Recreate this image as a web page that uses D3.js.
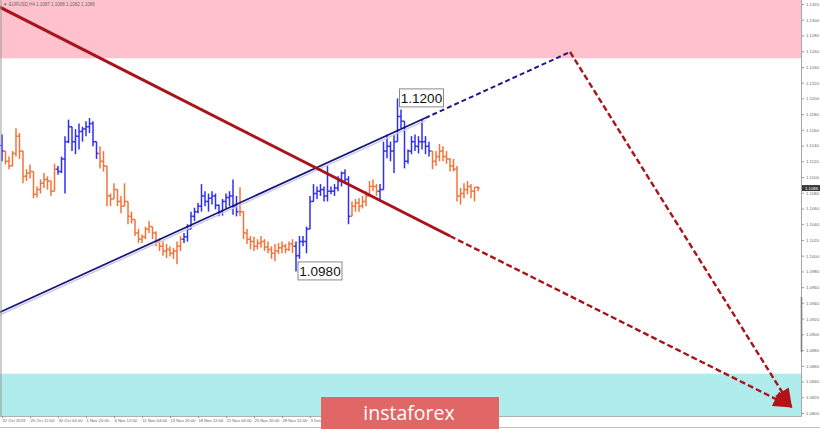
<!DOCTYPE html>
<html><head><meta charset="utf-8">
<script src="https://cdn.jsdelivr.net/npm/d3@7"></script>
<style>html,body{margin:0;padding:0;background:#fff;overflow:hidden} svg{display:block}</style>
</head><body>
<svg id="chart" width="820" height="429"></svg>
<script>
// ---- DATA ----
const highs = [1.1154,1.1130,1.1126,1.1133,1.1162,1.1156,1.1120,1.1110,1.1116,1.1092,
1.1088,1.1097,1.1105,1.1101,1.1095,1.1117,1.1114,1.1126,1.1152,1.1173,
1.1164,1.1161,1.1168,1.1164,1.1171,1.1175,1.1171,1.1145,1.1139,1.1133,
1.1105,1.1079,1.1092,1.1082,1.1076,1.1092,1.1059,1.1056,1.1044,1.1034,
1.1027,1.1037,1.1044,1.1037,1.1031,1.1022,1.1018,1.1015,1.1012,1.1010,
1.1018,1.1025,1.1029,1.1040,1.1056,1.1061,1.1067,1.1091,1.1082,1.1079,
1.1082,1.1079,1.1065,1.1072,1.1079,1.1082,1.1097,1.1076,1.1087,1.1050,
1.1034,1.1025,1.1024,1.1021,1.1025,1.1021,1.1018,1.1012,1.1015,1.1016,
1.1018,1.1015,1.1018,1.1021,1.1018,1.1025,1.1025,1.1037,1.1076,1.1091,
1.1088,1.1091,1.1088,1.1114,1.1088,1.1091,1.1101,1.1107,1.1110,1.1101,
1.1069,1.1072,1.1073,1.1076,1.1082,1.1095,1.1097,1.1091,1.1091,1.1145,
1.1154,1.1145,1.1154,1.1200,1.1186,1.1171,1.1135,1.1152,1.1154,1.1152,
1.1173,1.1152,1.1145,1.1133,1.1133,1.1142,1.1139,1.1133,1.1124,1.1123,
1.1114,1.1086,1.1092,1.1095,1.1091,1.1086,1.1088];
const lows = [1.1120,1.1116,1.1110,1.1114,1.1126,1.1123,1.1092,1.1095,1.1098,1.1073,
1.1074,1.1079,1.1086,1.1084,1.1076,1.1097,1.1103,1.1105,1.1079,1.1143,
1.1133,1.1129,1.1135,1.1145,1.1152,1.1156,1.1139,1.1123,1.1111,1.1107,
1.1063,1.1063,1.1072,1.1063,1.1054,1.1063,1.1040,1.1041,1.1025,1.1016,
1.1016,1.1021,1.1029,1.1021,1.1012,1.1006,1.1000,1.0997,1.0999,1.0996,
1.0989,1.1006,1.1016,1.1018,1.1037,1.1044,1.1054,1.1056,1.1063,1.1056,
1.1065,1.1059,1.1050,1.1051,1.1060,1.1063,1.1052,1.1050,1.1050,1.1021,
1.1015,1.1008,1.1006,1.1008,1.1010,1.1006,1.1003,1.0996,1.0993,1.1002,
1.1003,1.1003,1.1006,1.1003,1.0980,1.0996,1.1012,1.1003,1.1034,1.1069,
1.1072,1.1076,1.1069,1.1069,1.1078,1.1076,1.1082,1.1088,1.1091,1.1040,
1.1052,1.1056,1.1056,1.1060,1.1063,1.1076,1.1082,1.1076,1.1069,1.1095,
1.1124,1.1120,1.1105,1.1162,1.1162,1.1111,1.1117,1.1129,1.1133,1.1130,
1.1135,1.1129,1.1126,1.1110,1.1114,1.1120,1.1120,1.1117,1.1107,1.1107,
1.1069,1.1065,1.1073,1.1078,1.1073,1.1069,1.1082];
const closes = [1.1133,1.1120,1.1114,1.1130,1.1152,1.1133,1.1101,1.1105,1.1107,1.1078,
1.1084,1.1092,1.1097,1.1095,1.1082,1.1110,1.1107,1.1123,1.1145,1.1164,
1.1145,1.1152,1.1158,1.1161,1.1164,1.1168,1.1145,1.1130,1.1120,1.1114,
1.1076,1.1072,1.1084,1.1069,1.1063,1.1069,1.1050,1.1046,1.1029,1.1021,
1.1024,1.1034,1.1037,1.1029,1.1018,1.1012,1.1006,1.1008,1.1003,1.1006,
1.1012,1.1021,1.1024,1.1034,1.1050,1.1056,1.1063,1.1076,1.1069,1.1073,
1.1076,1.1064,1.1056,1.1069,1.1074,1.1076,1.1063,1.1056,1.1056,1.1029,
1.1021,1.1018,1.1012,1.1016,1.1018,1.1011,1.1008,1.1003,1.1006,1.1010,
1.1012,1.1008,1.1015,1.1012,1.1000,1.1018,1.1018,1.1034,1.1069,1.1079,
1.1082,1.1084,1.1076,1.1082,1.1082,1.1086,1.1095,1.1105,1.1097,1.1050,
1.1063,1.1067,1.1063,1.1069,1.1076,1.1088,1.1088,1.1082,1.1084,1.1133,
1.1139,1.1133,1.1145,1.1177,1.1171,1.1120,1.1133,1.1145,1.1139,1.1145,
1.1145,1.1139,1.1133,1.1120,1.1126,1.1133,1.1126,1.1123,1.1114,1.1110,
1.1076,1.1079,1.1084,1.1088,1.1082,1.1087,1.1086];
const firstOpen = 1.1140;
const waveStarts = [0,1,16,28,52,68,84,100,108,123];
const waveColors = ["blue","orange","blue","orange","blue","orange","blue","orange","blue","orange"];
const priceTicks = [1.1320,1.1300,1.1280,1.1260,1.1240,1.1220,1.1200,1.1180,1.1160,1.1140,1.1120,1.1100,
1.1080,1.1060,1.1040,1.1020,1.1000,1.0980,1.0960,1.0940,1.0920,1.0900,1.0880,1.0860,1.0840,1.0820,1.0800];
const timeLabels = ["22 Oct 2019","25 Oct 12:00","30 Oct 04:00","1 Nov 20:00","6 Nov 12:00","11 Nov 04:00",
"13 Nov 20:00","18 Nov 12:00","21 Nov 04:00","25 Nov 20:00","28 Nov 12:00","3 Dec 04:00"];
const timeLabelIdx = [0,8,16,24,32,40,48,56,64,72,80,88];
const headerText = "\u25BC EURUSD,H4  1.1087 1.1088 1.1082 1.1086";
const lastPrice = 1.1086;
const resistanceZone = [1.1251, 1.1335];
const supportZone = [1.0796, 1.0850];
const redSolid = [[-0.6,1.1316],[128,1.1025]];
const redDashA = [[128,1.1025],[225.5,1.0808]];
const blueSolid = [[-0.6,1.0928],[120.9,1.1175]];
const blueDash = [[120.9,1.1175],[162.3,1.1259]];
const redDashB = [[162.3,1.1259],[225.5,1.0808]];
const waveLabels = [{i:113,p:1.1200,t:"1.1200"},{i:84,p:1.0980,t:"1.0980"}];
const brand = "instaforex";

// ---- DRAW ----
const W = 820, H = 429, plotR = 801, plotB = 416;
const svg = d3.select("#chart");
const x = d3.scaleLinear().domain([0,136]).range([2,478]);
const y = d3.scaleLinear().domain([1.0800,1.1320]).range([413,4]);
const colorMap = {blue:"#2f2ff2", orange:"#f2743a"};

const defs = svg.append("defs");
defs.append("clipPath").attr("id","plot")
  .append("rect").attr("x",0).attr("y",0).attr("width",plotR).attr("height",plotB);
defs.append("marker").attr("id","arr").attr("viewBox","0 0 12 10")
  .attr("refX",11).attr("refY",5).attr("markerWidth",20).attr("markerHeight",16)
  .attr("markerUnits","userSpaceOnUse").attr("orient","auto")
  .append("path").attr("d","M0,0 L12,5 L0,10 Z").attr("fill","#b31217");

svg.append("rect").attr("width",W).attr("height",H).attr("fill","#fff");
const g = svg.append("g").attr("clip-path","url(#plot)");

// zones
g.append("rect").attr("x",0).attr("width",plotR)
  .attr("y",y(resistanceZone[1])).attr("height",y(resistanceZone[0])-y(resistanceZone[1]))
  .attr("fill","#ffc2cd");
g.append("rect").attr("x",0).attr("width",plotR)
  .attr("y",y(supportZone[1])).attr("height",y(supportZone[0])-y(supportZone[1]))
  .attr("fill","#b0ecec");

// bars
const bars = closes.map((c,i)=>{
  const o = i===0 ? firstOpen : closes[i-1];
  let w = 0; for (let k=0;k<waveStarts.length;k++) if (i>=waveStarts[k]) w=k;
  return {i, o, h:highs[i], l:lows[i], c, col:colorMap[waveColors[w]]};
});
const bg = g.append("g").attr("stroke-width",1.5).attr("fill","none");
bars.forEach(b=>{
  const xx = x(b.i);
  const top = Math.max(b.h,b.o,b.c), bot = Math.min(b.l,b.o,b.c);
  bg.append("line").attr("x1",xx).attr("x2",xx).attr("y1",y(top)).attr("y2",y(bot)).attr("stroke",b.col);
  bg.append("line").attr("x1",xx-1.8).attr("x2",xx).attr("y1",y(b.o)).attr("y2",y(b.o)).attr("stroke",b.col);
  bg.append("line").attr("x1",xx).attr("x2",xx+1.8).attr("y1",y(b.c)).attr("y2",y(b.c)).attr("stroke",b.col);
});

const line = d3.line().x(d=>x(d[0])).y(d=>y(d[1]));
// blue trend line with faint shadow
g.append("path").attr("d",line(blueSolid)).attr("transform","translate(0,2.5)")
  .attr("stroke","#c9c9e0").attr("stroke-width",1.4).attr("fill","none");
g.append("path").attr("d",line(blueSolid)).attr("stroke","#15157a").attr("stroke-width",1.7).attr("fill","none");
g.append("path").attr("d",line(blueDash)).attr("stroke","#1c1c8a").attr("stroke-width",2)
  .attr("stroke-dasharray","5,3").attr("fill","none");
// red lines
g.append("path").attr("d",line(redSolid)).attr("stroke","#a8141a").attr("stroke-width",3).attr("fill","none");
g.append("path").attr("d",line(redDashA)).attr("stroke","#a8141a").attr("stroke-width",2.4)
  .attr("stroke-dasharray","6,3").attr("fill","none").attr("marker-end","url(#arr)");
g.append("path").attr("d",line(redDashB)).attr("stroke","#a8141a").attr("stroke-width",2.4)
  .attr("stroke-dasharray","6,3").attr("fill","none").attr("marker-end","url(#arr)");

// wave labels
waveLabels.forEach(l=>{
  const lx = x(l.i)+2, ly = y(l.p);
  const lg = svg.append("g");
  lg.append("rect").attr("x",lx).attr("y",ly-9.5).attr("width",44).attr("height",18)
    .attr("fill","#fff").attr("stroke","#8a8a8a").attr("stroke-width",1);
  lg.append("text").attr("x",lx+22).attr("y",ly+4.5).attr("text-anchor","middle")
    .attr("font-family","Liberation Sans, Arial, sans-serif").attr("font-size",13.5)
    .attr("fill","#111").text(l.t);
});

// frame lines
svg.append("line").attr("x1",1).attr("x2",1).attr("y1",0).attr("y2",plotB).attr("stroke","#9a9a9a");
svg.append("line").attr("x1",plotR+0.5).attr("x2",plotR+0.5).attr("y1",0).attr("y2",plotB).attr("stroke","#a8a8a8");
svg.append("line").attr("x1",0).attr("x2",plotR+1).attr("y1",plotB+0.5).attr("y2",plotB+0.5).attr("stroke","#b0b0b0");
svg.append("line").attr("x1",0).attr("x2",W).attr("y1",427.5).attr("y2",427.5).attr("stroke","#c0c0c0");
svg.append("line").attr("x1",plotR+0.5).attr("x2",plotR+0.5).attr("y1",297).attr("y2",352).attr("stroke","#808080").attr("stroke-width",1.6);

// price axis
const ya = svg.append("g").attr("transform",`translate(${plotR+1},0)`)
  .call(d3.axisRight(y).tickValues(priceTicks).tickFormat(d3.format(".4f")).tickSize(2).tickPadding(2));
ya.select(".domain").remove();
ya.selectAll("line").attr("stroke","#999");
ya.selectAll("text").attr("font-size",4.3).attr("fill","#666").attr("font-family","Liberation Sans, Arial, sans-serif");

// last price marker
const lp = svg.append("g");
lp.append("rect").attr("x",plotR+1).attr("y",y(lastPrice)-3).attr("width",18).attr("height",6).attr("fill","#3a3a3a");
lp.append("text").attr("x",plotR+4).attr("y",y(lastPrice)+1.6).attr("font-size",4.3).attr("fill","#fff")
  .attr("font-family","Liberation Sans, Arial, sans-serif").text(d3.format(".4f")(lastPrice));

// time axis
const xa = svg.append("g").attr("transform",`translate(0,${plotB})`)
  .call(d3.axisBottom(x).tickValues(timeLabelIdx).tickFormat((d,i)=>timeLabels[i]).tickSize(2).tickPadding(1));
xa.select(".domain").remove();
xa.selectAll("line").attr("stroke","#999");
xa.selectAll("text").attr("font-size",4.2).attr("fill","#666").attr("text-anchor","start")
  .attr("font-family","Liberation Sans, Arial, sans-serif");

// header
svg.append("text").attr("x",3).attr("y",6).attr("font-size",4.5).attr("fill","#666")
  .attr("font-family","Liberation Sans, Arial, sans-serif").text(headerText);

// brand banner
svg.append("rect").attr("x",321).attr("y",397).attr("width",178).attr("height",32).attr("fill","#e16666");
svg.append("text").attr("x",409).attr("y",420).attr("text-anchor","middle")
  .attr("font-family","Open Sans, sans-serif").attr("font-size",19.5).attr("fill","#fff").text(brand);
</script>
</body></html>
